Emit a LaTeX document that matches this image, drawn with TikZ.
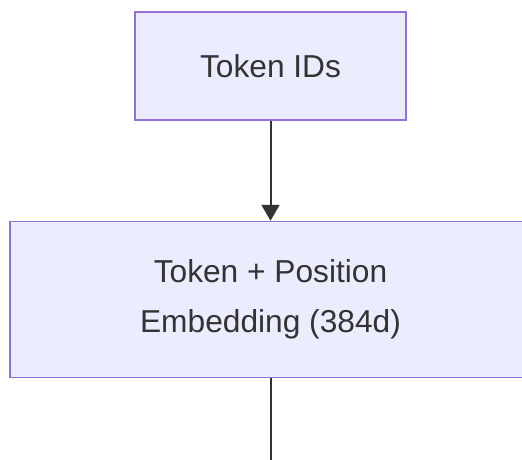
\documentclass[tikz,border=0pt]{standalone}
\usepackage{fontspec}
\setmainfont{Liberation Sans}
\usetikzlibrary{arrows.meta, positioning}
\definecolor{boxfill}{HTML}{ECECFF}
\definecolor{boxline}{HTML}{9370DB}
\definecolor{ink}{HTML}{333333}

\begin{document}
\begin{tikzpicture}[x=1pt,y=1pt,node distance=100pt,
    every node/.style={font=\fontsize{31.7}{50}\selectfont,text=ink},
    block/.style={draw=boxline,fill=boxfill,line width=1.5pt,align=center,inner sep=0pt},
    flow/.style={draw=ink,line width=2pt,-{Triangle[length=16pt,width=18pt]}}]
    \useasboundingbox (0,0) rectangle (522,-459);
    \clip (0,0) rectangle (522,-459);
    \node[block,minimum width=271pt,minimum height=108pt] (ids) at (270.5,-66) {Token IDs};
    \node[block,minimum width=521pt,minimum height=156pt,below=of ids] (emb) {Token + Position\\Embedding (384d)};
    \coordinate (out) at (270.5,-470);

    \path[flow] (ids) -- (emb);
    \draw[ink,line width=2pt] (emb) -- (out);
\end{tikzpicture}
\end{document}
